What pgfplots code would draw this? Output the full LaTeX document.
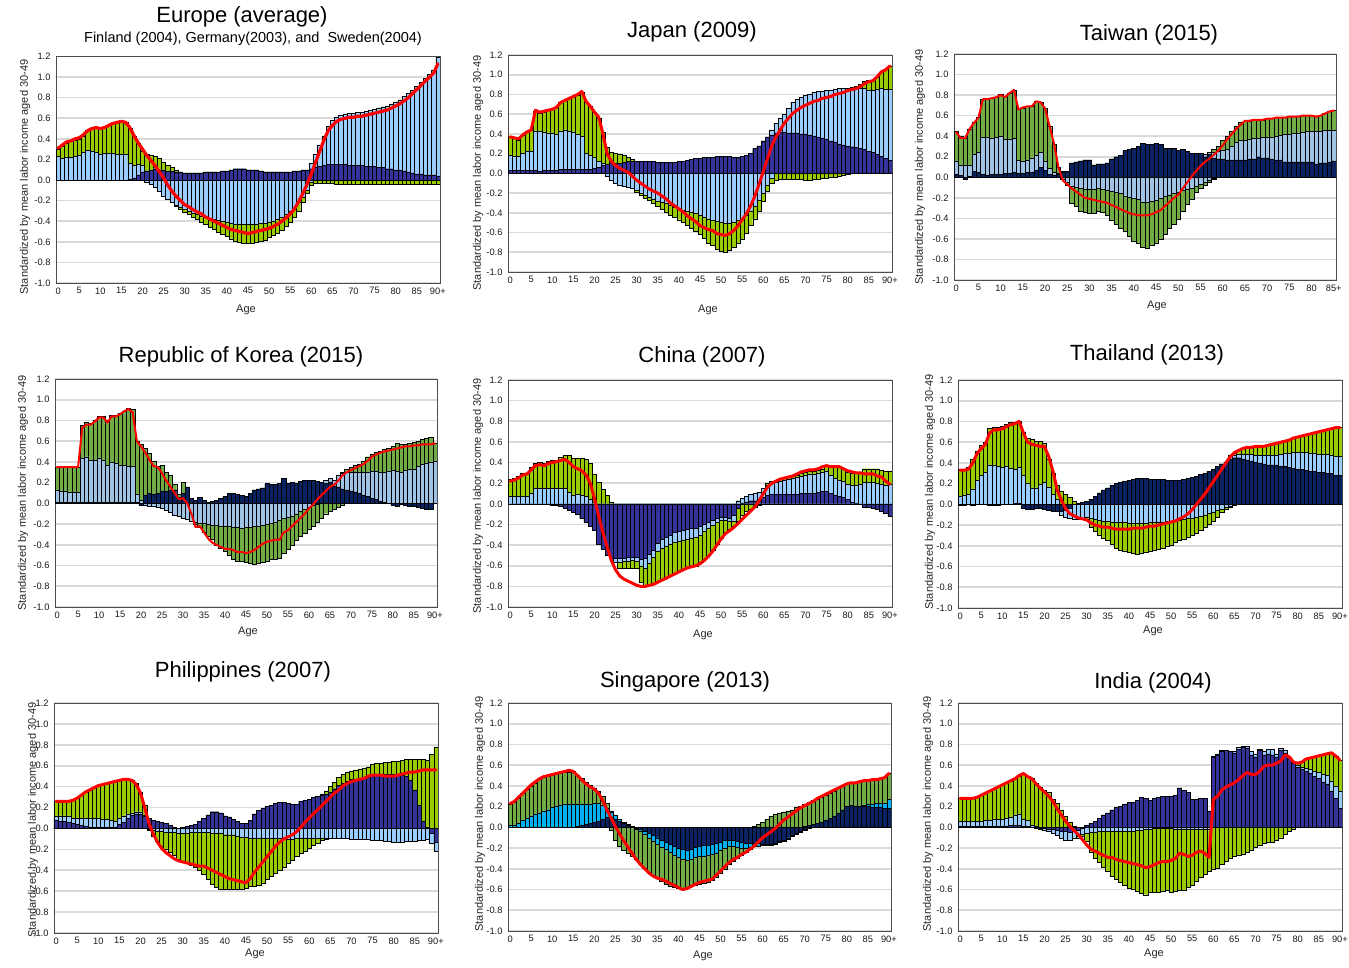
\documentclass[border=0pt]{standalone}
\usepackage{fontspec}
\setmainfont{Liberation Sans}
\usepackage{pgfplots}
\usepackage{pgfplotstable}
\pgfplotsset{compat=1.18}

\definecolor{navyA}{RGB}{51,51,153}
\definecolor{navyB}{RGB}{10,34,96}
\definecolor{lblueA}{RGB}{153,204,255}
\definecolor{lblueB}{RGB}{157,195,230}
\definecolor{greenA}{RGB}{153,204,0}
\definecolor{greenB}{RGB}{112,173,71}
\definecolor{cyanS}{RGB}{0,176,240}
\definecolor{gridc}{RGB}{217,217,217}

% columns: a,b,c = cumulative tops of the positive stack (navy, blue, green)
%          d,e,f = cumulative bottoms of the negative stack (navy, blue, green)
%          r     = net total (red line)
\pgfplotstableread{
a b c d e f r
0 .23 .30 0 0 0 .31
0 .21 .33 0 0 0 .34
0 .22 .36 0 0 0 .37
0 .22 .38 0 0 0 .38
0 .23 .39 0 0 0 .40
0 .24 .40 0 0 0 .41
0 .27 .43 0 0 0 .44
0 .29 .48 0 0 0 .48
0 .28 .50 0 0 0 .50
0 .27 .51 0 0 0 .51
0 .25 .49 0 0 0 .50
0 .26 .51 0 0 0 .51
0 .26 .53 0 0 0 .53
0 .26 .55 0 0 0 .55
0 .25 .56 0 0 0 .56
0 .25 .57 0 0 0 .57
0 .25 .56 0 0 0 .56
.01 .16 .50 0 0 0 .51
.02 .14 .43 0 0 0 .43
.05 .15 .36 0 0 0 .36
.08 .14 .28 0 0 0 .30
.09 .09 .25 0 -.02 -.02 .24
.10 .10 .24 0 -.04 -.04 .19
.11 .11 .23 0 -.07 -.07 .14
.10 .10 .21 0 -.11 -.11 .08
.10 .10 .17 0 -.16 -.16 .02
.09 .09 .14 0 -.19 -.19 -.05
.09 .09 .12 0 -.22 -.22 -.11
.08 .08 .10 0 -.24 -.25 -.16
.08 .08 .08 0 -.26 -.28 -.20
.07 .07 .07 0 -.28 -.31 -.24
.07 .07 .07 0 -.30 -.33 -.26
.07 .07 .07 0 -.32 -.36 -.29
.07 .07 .07 0 -.33 -.38 -.31
.07 .07 .07 0 -.35 -.41 -.33
.08 .08 .08 0 -.36 -.43 -.36
.08 .08 .08 0 -.37 -.46 -.38
.08 .08 .08 0 -.38 -.48 -.40
.08 .08 .08 0 -.39 -.51 -.42
.09 .09 .09 0 -.40 -.53 -.44
.09 .09 .09 0 -.41 -.55 -.46
.10 .10 .10 0 -.42 -.57 -.48
.11 .11 .11 0 -.43 -.59 -.49
.11 .11 .11 0 -.43 -.60 -.50
.11 .11 .11 0 -.43 -.61 -.51
.10 .10 .10 0 -.43 -.61 -.52
.10 .10 .10 0 -.43 -.61 -.51
.10 .10 .10 0 -.43 -.60 -.50
.09 .09 .09 0 -.42 -.59 -.49
.08 .08 .08 0 -.42 -.58 -.48
.08 .08 .08 0 -.41 -.56 -.47
.08 .08 .08 0 -.40 -.54 -.45
.08 .08 .08 0 -.38 -.52 -.43
.08 .08 .08 0 -.36 -.49 -.40
.08 .08 .08 0 -.33 -.45 -.37
.08 .08 .08 0 -.30 -.41 -.33
.09 .09 .09 0 -.27 -.36 -.28
.09 .09 .09 0 -.22 -.30 -.21
.10 .10 .10 0 -.17 -.22 -.13
.10 .10 .10 0 -.10 -.13 -.04
.11 .16 .16 0 -.02 -.05 .06
.12 .25 .25 0 0 -.03 .17
.13 .34 .34 0 0 -.03 .28
.14 .43 .43 0 0 -.03 .39
.15 .52 .52 0 0 -.03 .48
.15 .58 .58 0 0 -.03 .53
.15 .61 .61 0 0 -.04 .57
.15 .63 .63 0 0 -.04 .59
.15 .64 .64 0 0 -.04 .60
.14 .65 .65 0 0 -.04 .61
.14 .65 .65 0 0 -.04 .61
.14 .66 .66 0 0 -.04 .62
.14 .66 .66 0 0 -.04 .62
.13 .67 .67 0 0 -.04 .63
.13 .68 .68 0 0 -.04 .64
.13 .69 .69 0 0 -.04 .65
.12 .70 .70 0 0 -.04 .66
.12 .71 .71 0 0 -.04 .67
.11 .72 .72 0 0 -.04 .68
.11 .74 .74 0 0 -.04 .70
.10 .76 .76 0 0 -.04 .72
.10 .78 .78 0 0 -.04 .74
.09 .81 .81 0 0 -.04 .77
.08 .84 .84 0 0 -.04 .80
.07 .87 .87 0 0 -.04 .84
.06 .91 .91 0 0 -.04 .88
.06 .95 .95 0 0 -.04 .92
.05 .99 .99 0 0 -.04 .96
.05 1.03 1.03 0 0 -.04 1.00
.05 1.07 1.07 0 0 -.04 1.04
.04 1.19 1.19 0 0 -.04 1.13
}\tEU

\pgfplotstableread{
a b c d e f r
.03 .18 .38 0 0 0 .37
.03 .17 .36 0 0 0 .36
.03 .17 .34 0 0 0 .35
.03 .20 .39 0 0 0 .39
.03 .22 .43 0 0 0 .42
.03 .22 .44 0 0 0 .44
.03 .43 .63 0 0 0 .64
.02 .43 .61 0 0 0 .62
.03 .42 .62 0 0 0 .63
.03 .41 .64 0 0 0 .64
.03 .41 .65 0 0 0 .65
.03 .40 .67 0 0 0 .67
.04 .43 .72 0 0 0 .72
.04 .44 .74 0 0 0 .74
.04 .43 .76 0 0 0 .76
.04 .42 .78 0 0 0 .78
.04 .40 .79 0 0 0 .80
.04 .38 .82 0 0 0 .83
.04 .20 .72 0 0 0 .73
.04 .18 .68 0 0 0 .68
.05 .16 .62 0 0 0 .62
.06 .12 .56 0 0 0 .57
.08 .10 .42 0 0 0 .40
.09 .09 .26 0 -.03 -.03 .20
.10 .10 .21 0 -.07 -.07 .12
.10 .10 .20 0 -.10 -.10 .08
.10 .10 .19 0 -.12 -.12 .05
.11 .11 .18 0 -.13 -.13 .03
.12 .12 .16 0 -.14 -.14 .01
.12 .12 .14 0 -.15 -.15 -.03
.12 .12 .12 0 -.17 -.19 -.07
.12 .12 .12 0 -.20 -.22 -.10
.12 .12 .12 0 -.22 -.25 -.13
.12 .12 .12 0 -.24 -.27 -.16
.12 .12 .12 0 -.26 -.30 -.18
.11 .11 .11 0 -.28 -.33 -.20
.11 .11 .11 0 -.29 -.36 -.23
.11 .11 .11 0 -.30 -.39 -.26
.11 .11 .11 0 -.32 -.42 -.30
.11 .11 .11 0 -.34 -.44 -.33
.12 .12 .12 0 -.36 -.47 -.36
.12 .12 .12 0 -.37 -.50 -.39
.13 .13 .13 0 -.38 -.53 -.43
.14 .14 .14 0 -.39 -.56 -.46
.15 .15 .15 0 -.40 -.59 -.49
.15 .15 .15 0 -.42 -.62 -.53
.16 .16 .16 0 -.44 -.66 -.55
.16 .16 .16 0 -.46 -.71 -.57
.16 .16 .16 0 -.48 -.73 -.58
.17 .17 .17 0 -.49 -.77 -.61
.17 .17 .17 0 -.50 -.79 -.62
.17 .17 .17 0 -.51 -.80 -.63
.17 .17 .17 0 -.51 -.78 -.61
.16 .16 .16 0 -.50 -.75 -.58
.16 .16 .16 0 -.48 -.71 -.53
.17 .17 .17 0 -.46 -.67 -.47
.18 .18 .18 0 -.42 -.61 -.41
.20 .20 .20 0 -.38 -.53 -.33
.25 .25 .25 0 -.33 -.46 -.23
.28 .28 .28 0 -.27 -.38 -.11
.33 .33 .33 0 -.20 -.28 .02
.37 .37 .37 0 -.12 -.18 .15
.39 .44 .44 0 -.05 -.10 .28
.41 .51 .51 0 0 -.07 .37
.42 .56 .56 0 0 -.06 .44
.42 .60 .60 0 0 -.06 .51
.41 .66 .66 0 0 -.06 .56
.41 .72 .72 0 0 -.06 .61
.41 .75 .75 0 0 -.06 .64
.40 .77 .77 0 0 -.06 .67
.40 .79 .79 0 0 -.07 .69
.39 .80 .80 0 0 -.07 .71
.38 .82 .82 0 0 -.06 .73
.37 .83 .83 0 0 -.06 .74
.36 .83 .83 0 0 -.05 .76
.35 .84 .84 0 0 -.05 .77
.33 .84 .84 0 0 -.04 .78
.32 .85 .85 0 0 -.04 .80
.30 .86 .86 0 0 -.03 .81
.29 .86 .86 0 0 -.02 .82
.28 .86 .86 0 0 -.01 .84
.27 .86 .87 0 0 0 .85
.26 .86 .88 0 0 0 .86
.25 .86 .90 0 0 0 .88
.24 .86 .93 0 0 0 .91
.22 .84 .94 0 0 0 .93
.21 .84 .94 0 0 0 .94
.19 .85 .97 0 0 0 .98
.17 .86 1.03 0 0 0 1.03
.15 .85 1.06 0 0 0 1.05
.13 .85 1.09 0 0 0 1.09
}\tJP

\pgfplotstableread{
a b c d e f r
.03 .16 .45 0 0 0 .44
.02 .12 .40 0 0 0 .38
0 .12 .38 -.02 -.02 -.02 .38
.01 .12 .47 0 0 0 .47
.06 .22 .54 0 0 0 .53
.05 .24 .58 0 0 0 .58
.03 .39 .76 0 0 0 .76
.02 .39 .76 0 0 0 .76
.03 .38 .77 0 0 0 .77
.03 .39 .78 0 0 0 .78
.03 .40 .81 0 0 0 .80
.04 .37 .79 0 0 0 .78
.04 .37 .82 0 0 0 .82
.05 .38 .85 0 0 0 .85
.04 .17 .66 0 0 0 .66
.04 .16 .67 0 0 0 .68
.05 .17 .69 0 0 0 .69
.05 .19 .69 0 0 0 .69
.07 .21 .74 0 0 0 .74
.10 .24 .73 0 0 0 .73
.07 .16 .67 0 0 0 .67
.03 .09 .50 0 0 0 .50
.02 .05 .32 0 0 0 .33
.03 .04 .10 0 0 0 .10
.05 .05 .06 0 -.02 -.02 -.03
.06 .06 .06 0 -.05 -.08 -.07
.14 .14 .14 0 -.09 -.25 -.11
.15 .15 .15 0 -.10 -.28 -.14
.16 .16 .16 0 -.11 -.33 -.17
.17 .17 .17 0 -.12 -.34 -.20
.17 .17 .17 0 -.12 -.35 -.21
.12 .12 .12 0 -.12 -.35 -.22
.13 .13 .13 0 -.11 -.33 -.23
.13 .13 .13 0 -.12 -.34 -.24
.14 .14 .14 0 -.13 -.37 -.25
.18 .18 .18 0 -.14 -.42 -.27
.20 .20 .20 0 -.15 -.46 -.29
.21 .21 .21 0 -.16 -.50 -.31
.26 .26 .26 0 -.18 -.53 -.33
.27 .27 .27 0 -.19 -.57 -.35
.28 .28 .28 0 -.20 -.62 -.36
.30 .30 .30 0 -.21 -.64 -.37
.33 .33 .33 0 -.24 -.68 -.37
.32 .32 .32 0 -.24 -.69 -.37
.32 .32 .32 0 -.23 -.66 -.36
.33 .33 .33 0 -.22 -.64 -.34
.32 .32 .32 0 -.20 -.60 -.32
.28 .28 .28 0 -.18 -.55 -.28
.28 .28 .28 0 -.17 -.50 -.24
.28 .28 .28 0 -.16 -.46 -.20
.26 .26 .26 0 -.15 -.41 -.17
.27 .27 .27 0 -.13 -.33 -.11
.25 .25 .25 0 -.12 -.26 -.05
.23 .23 .23 0 -.11 -.21 .01
.23 .23 .23 0 -.09 -.15 .06
.23 .23 .23 0 -.07 -.11 .11
.20 .22 .22 0 -.05 -.08 .15
.22 .24 .24 0 -.03 -.05 .18
.19 .24 .27 0 -.01 -.02 .22
.18 .25 .30 0 0 0 .26
.18 .26 .36 0 0 0 .31
.17 .27 .40 0 0 0 .37
.17 .30 .45 0 0 0 .42
.17 .34 .50 0 0 0 .47
.17 .36 .54 0 0 0 .51
.17 .36 .55 0 0 0 .55
.18 .37 .55 0 0 0 .55
.18 .38 .56 0 0 0 .56
.20 .38 .56 0 0 0 .56
.19 .39 .56 0 0 0 .56
.19 .39 .57 0 0 0 .57
.18 .39 .57 0 0 0 .57
.17 .40 .58 0 0 0 .58
.17 .41 .58 0 0 0 .58
.15 .42 .58 0 0 0 .58
.15 .42 .59 0 0 0 .59
.15 .43 .59 0 0 0 .59
.15 .43 .59 0 0 0 .59
.15 .44 .60 0 0 0 .60
.15 .45 .60 0 0 0 .60
.15 .45 .60 0 0 0 .60
.13 .45 .59 0 0 0 .59
.14 .45 .60 0 0 0 .60
.14 .46 .62 0 0 0 .62
.15 .46 .64 0 0 0 .64
.16 .46 .65 0 0 0 .65
}\tTW

\pgfplotstableread{
a b c d e f r
.01 .13 .35 0 0 0 .35
.01 .12 .35 0 0 0 .35
.01 .12 .35 0 0 0 .35
.01 .11 .35 0 0 0 .35
.01 .11 .35 0 0 0 .35
.01 .11 .35 0 0 0 .35
.01 .44 .75 0 0 0 .73
.01 .45 .78 0 0 0 .76
.01 .42 .77 0 0 0 .76
.01 .42 .80 0 0 0 .79
.01 .44 .84 0 0 0 .83
.01 .42 .84 0 0 0 .83
.01 .37 .80 0 0 0 .78
.01 .40 .85 0 0 0 .84
.01 .39 .85 0 0 0 .84
.01 .37 .87 0 0 0 .86
.01 .37 .89 0 0 0 .89
.01 .36 .92 0 0 0 .91
.01 .36 .91 0 0 0 .88
.01 .09 .60 0 0 0 .60
0 .03 .57 -.02 -.02 -.02 .55
.08 .08 .53 0 -.02 -.02 .49
.10 .10 .48 0 -.03 -.03 .42
.09 .09 .41 0 -.03 -.03 .36
.10 .10 .36 0 -.04 -.04 .35
.12 .12 .37 0 -.05 -.05 .29
.12 .12 .30 0 -.07 -.07 .22
.13 .13 .27 0 -.09 -.09 .16
.13 .13 .18 0 -.11 -.11 .10
.06 .06 .09 0 -.12 -.12 .04
.10 .10 .20 0 -.14 -.14 .05
.16 .16 .16 0 -.15 -.15 .00
.05 .05 .05 0 -.17 -.17 -.10
.03 .03 .03 0 -.18 -.20 -.23
.06 .06 .06 0 -.19 -.23 -.22
.03 .03 .03 0 -.19 -.28 -.28
.01 .01 .01 0 -.20 -.32 -.34
.02 .02 .02 0 -.21 -.35 -.38
.03 .03 .03 0 -.21 -.40 -.40
.05 .05 .05 0 -.22 -.43 -.42
.07 .07 .07 0 -.22 -.46 -.44
.10 .10 .10 0 -.22 -.50 -.44
.10 .10 .10 0 -.23 -.54 -.45
.09 .09 .09 0 -.23 -.56 -.47
.08 .08 .08 0 -.24 -.56 -.47
.07 .07 .07 0 -.23 -.57 -.48
.10 .10 .10 0 -.23 -.58 -.47
.13 .13 .13 0 -.22 -.59 -.45
.14 .14 .14 0 -.22 -.58 -.42
.15 .15 .15 0 -.21 -.57 -.39
.19 .19 .19 0 -.20 -.56 -.37
.18 .18 .18 0 -.19 -.54 -.36
.18 .18 .18 0 -.18 -.54 -.35
.19 .19 .19 0 -.16 -.53 -.35
.24 .24 .24 0 -.14 -.48 -.28
.19 .19 .19 0 -.13 -.44 -.26
.20 .20 .20 0 -.12 -.40 -.22
.19 .19 .19 0 -.10 -.36 -.18
.21 .21 .21 0 -.08 -.32 -.14
.22 .22 .22 0 -.06 -.29 -.10
.22 .22 .22 0 -.04 -.25 -.05
.22 .22 .22 0 -.02 -.22 -.01
.21 .21 .21 0 -.01 -.18 .04
.20 .20 .20 0 0 -.14 .08
.19 .22 .22 0 0 -.10 .12
.20 .24 .24 0 0 -.08 .16
.17 .22 .22 0 0 -.06 .18
.16 .27 .27 0 0 -.04 .22
.14 .29 .30 0 0 -.02 .27
.13 .30 .33 0 0 0 .30
.12 .30 .35 0 0 0 .32
.11 .30 .37 0 0 0 .34
.10 .30 .38 0 0 0 .36
.08 .30 .41 0 0 0 .38
.07 .30 .45 0 0 0 .41
.05 .31 .47 0 0 0 .45
.04 .31 .49 0 0 0 .47
.02 .30 .50 0 0 0 .49
.01 .30 .52 0 0 0 .50
0 .31 .53 0 0 0 .51
0 .32 .55 -.02 -.02 -.02 .52
0 .31 .58 -.03 -.03 -.03 .53
0 .30 .57 -.01 -.01 -.01 .54
0 .32 .57 -.02 -.02 -.02 .55
0 .33 .58 -.03 -.03 -.03 .55
0 .33 .59 -.03 -.03 -.03 .56
0 .36 .60 -.04 -.04 -.04 .56
0 .38 .62 -.05 -.05 -.05 .57
0 .39 .63 -.06 -.06 -.06 .57
0 .40 .64 -.06 -.06 -.06 .57
0 .41 .58 0 0 0 .58
}\tKR

\pgfplotstableread{
a b c d e f r
0 .07 .24 0 0 0 .22
0 .07 .25 0 0 0 .23
0 .07 .27 0 0 0 .25
0 .07 .30 0 0 0 .28
0 .07 .30 0 0 0 .29
0 .10 .35 0 0 0 .33
0 .15 .39 0 0 0 .37
0 .15 .40 0 0 0 .38
0 .15 .39 0 0 0 .37
0 .15 .41 0 0 0 .39
0 .15 .42 -.01 -.01 -.01 .40
0 .15 .42 -.01 -.01 -.01 .41
0 .15 .45 -.02 -.02 -.02 .42
0 .15 .47 -.04 -.04 -.04 .43
0 .11 .47 -.06 -.06 -.06 .40
0 .08 .44 -.08 -.08 -.08 .36
0 .09 .44 -.10 -.10 -.10 .34
0 .08 .44 -.14 -.14 -.14 .32
0 .07 .43 -.18 -.18 -.18 .28
0 .04 .39 -.22 -.22 -.22 .20
0 .02 .29 -.26 -.26 -.26 .05
0 0 .21 -.39 -.39 -.39 -.12
0 0 .14 -.44 -.44 -.44 -.28
0 0 .08 -.50 -.50 -.50 -.42
0 0 .02 -.53 -.53 -.53 -.55
0 0 0 -.53 -.57 -.57 -.64
0 0 0 -.53 -.57 -.62 -.70
0 0 0 -.53 -.56 -.62 -.73
0 0 0 -.52 -.56 -.62 -.75
0 0 0 -.52 -.55 -.62 -.77
0 0 0 -.52 -.56 -.62 -.79
0 0 0 -.54 -.60 -.76 -.80
0 0 0 -.53 -.62 -.79 -.80
0 0 0 -.49 -.58 -.78 -.79
0 0 0 -.45 -.52 -.77 -.78
0 0 0 -.38 -.46 -.75 -.76
0 0 0 -.34 -.43 -.73 -.74
0 0 0 -.32 -.41 -.71 -.72
0 0 0 -.30 -.39 -.69 -.70
0 0 0 -.28 -.37 -.67 -.68
0 0 0 -.27 -.36 -.65 -.66
0 0 0 -.26 -.35 -.63 -.64
0 0 0 -.25 -.34 -.62 -.62
0 0 0 -.24 -.33 -.61 -.61
0 0 0 -.24 -.32 -.60 -.60
0 0 0 -.22 -.30 -.57 -.58
0 0 0 -.20 -.27 -.54 -.55
0 0 0 -.18 -.24 -.50 -.51
0 0 0 -.16 -.21 -.45 -.46
0 0 0 -.14 -.18 -.39 -.40
0 0 0 -.13 -.16 -.33 -.34
0 0 0 -.13 -.16 -.28 -.29
0 0 0 -.14 -.17 -.25 -.26
0 0 0 -.11 -.17 -.22 -.23
0 .03 .03 -.04 -.04 -.17 -.19
.01 .05 .05 0 0 -.11 -.15
.02 .07 .07 0 0 -.07 -.11
.03 .09 .09 0 0 -.05 -.07
.03 .10 .10 0 0 -.03 -.03
.04 .11 .11 0 0 -.01 .03
.06 .15 .15 0 0 0 .10
.08 .18 .20 0 0 0 .16
.09 .20 .22 0 0 0 .20
.09 .21 .23 0 0 0 .22
.09 .22 .24 0 0 0 .24
.09 .23 .25 0 0 0 .25
.09 .24 .26 0 0 0 .26
.09 .25 .27 0 0 0 .27
.09 .26 .28 0 0 0 .29
.10 .27 .30 0 0 0 .31
.10 .28 .31 0 0 0 .32
.10 .29 .32 0 0 0 .33
.10 .29 .32 0 0 0 .33
.11 .30 .33 0 0 0 .34
.12 .31 .34 0 0 0 .36
.12 .32 .36 0 0 0 .37
.10 .28 .36 0 0 0 .36
.08 .25 .35 0 0 0 .36
.07 .23 .36 0 0 0 .36
.06 .22 .34 0 0 0 .34
.04 .19 .31 0 0 0 .32
.02 .18 .30 0 0 0 .31
.01 .18 .30 0 0 0 .30
0 .19 .31 0 0 0 .30
0 .21 .34 -.03 -.03 -.03 .29
0 .21 .34 -.03 -.03 -.03 .29
0 .21 .34 -.04 -.04 -.04 .29
0 .20 .34 -.05 -.05 -.05 .27
0 .19 .33 -.07 -.07 -.07 .26
0 .18 .32 -.09 -.09 -.09 .22
0 .19 .32 -.12 -.12 -.12 .19
}\tCN

\pgfplotstableread{
a b c d e f r
0 .08 .34 -.01 -.01 -.01 .33
0 .09 .34 -.01 -.01 -.01 .33
0 .10 .36 0 0 0 .34
0 .15 .44 -.01 -.01 -.01 .40
0 .23 .51 0 0 0 .49
0 .28 .57 0 0 0 .54
0 .31 .60 0 0 0 .58
0 .38 .73 -.01 -.01 -.01 .69
0 .38 .74 -.01 -.01 -.01 .72
0 .37 .74 -.01 -.01 -.01 .72
0 .36 .75 0 0 0 .73
0 .37 .77 0 0 0 .75
0 .35 .79 0 0 0 .77
.01 .34 .79 0 0 0 .78
.01 .36 .80 0 0 0 .80
0 .28 .70 -.04 -.04 -.04 .69
0 .20 .64 -.05 -.05 -.05 .60
0 .16 .63 -.05 -.05 -.05 .58
0 .16 .61 -.04 -.04 -.04 .57
0 .19 .61 -.04 -.04 -.04 .56
0 .21 .59 -.05 -.05 -.05 .56
0 .17 .44 -.06 -.06 -.06 .46
0 .10 .30 -.07 -.07 -.07 .32
0 .05 .18 -.07 -.07 -.07 .14
0 0 .13 -.07 -.10 -.10 .04
0 0 .10 -.06 -.12 -.12 -.04
0 0 .07 -.04 -.13 -.13 -.09
0 0 .03 0 -.14 -.14 -.11
.01 .01 .01 0 -.14 -.14 -.13
.02 .02 .02 0 -.13 -.13 -.14
.03 .03 .03 0 -.12 -.14 -.15
.05 .05 .05 0 -.13 -.22 -.18
.08 .08 .08 0 -.14 -.26 -.20
.11 .11 .11 0 -.15 -.30 -.21
.14 .14 .14 0 -.16 -.33 -.22
.16 .16 .16 0 -.16 -.35 -.22
.18 .18 .18 0 -.17 -.38 -.23
.20 .20 .20 0 -.17 -.42 -.24
.21 .21 .21 0 -.17 -.44 -.24
.22 .22 .22 0 -.17 -.45 -.24
.23 .23 .23 0 -.18 -.46 -.24
.24 .24 .24 0 -.18 -.47 -.23
.25 .25 .25 0 -.18 -.48 -.23
.25 .25 .25 0 -.18 -.47 -.23
.25 .25 .25 0 -.18 -.46 -.22
.24 .24 .24 0 -.17 -.45 -.21
.24 .24 .24 0 -.17 -.44 -.21
.24 .24 .24 0 -.17 -.43 -.20
.24 .24 .24 0 -.17 -.42 -.19
.23 .23 .23 0 -.16 -.40 -.18
.23 .23 .23 0 -.16 -.39 -.17
.23 .23 .23 0 -.15 -.37 -.16
.23 .23 .23 0 -.15 -.35 -.14
.24 .24 .24 0 -.14 -.34 -.12
.25 .25 .25 0 -.13 -.32 -.09
.26 .26 .26 0 -.13 -.30 -.05
.27 .27 .27 0 -.12 -.28 0
.29 .29 .29 0 -.11 -.25 .05
.30 .30 .30 0 -.10 -.22 .10
.32 .32 .32 0 -.09 -.19 .16
.34 .34 .34 0 -.08 -.16 .22
.37 .37 .37 0 -.06 -.12 .28
.39 .39 .39 0 -.05 -.08 .34
.41 .41 .41 0 -.03 -.05 .40
.44 .46 .47 0 -.02 -.03 .46
.45 .47 .49 0 0 -.01 .50
.45 .48 .52 0 0 0 .52
.44 .48 .54 0 0 0 .54
.43 .48 .55 0 0 0 .55
.42 .48 .56 0 0 0 .55
.41 .47 .56 0 0 0 .56
.40 .47 .57 0 0 0 .56
.39 .47 .57 0 0 0 .56
.38 .47 .57 0 0 0 .57
.38 .47 .58 0 0 0 .58
.38 .47 .59 0 0 0 .59
.37 .48 .60 0 0 0 .60
.37 .49 .61 0 0 0 .61
.36 .49 .62 0 0 0 .62
.35 .50 .64 0 0 0 .64
.34 .50 .65 0 0 0 .65
.34 .50 .66 0 0 0 .66
.33 .50 .67 0 0 0 .67
.32 .49 .68 0 0 0 .68
.32 .49 .69 0 0 0 .69
.31 .48 .70 0 0 0 .70
.31 .48 .71 0 0 0 .71
.30 .48 .72 0 0 0 .72
.30 .47 .73 0 0 0 .73
.28 .46 .74 0 0 0 .74
.28 .46 .74 0 0 0 .74
}\tTH

\pgfplotstableread{
a b c d e f r
.08 .12 .26 0 0 0 .26
.07 .12 .26 0 0 0 .26
.07 .12 .26 0 0 0 .26
.06 .12 .26 0 0 0 .26
.05 .10 .27 0 0 0 .27
.04 .10 .29 0 0 0 .29
.03 .10 .32 0 0 0 .32
.02 .10 .35 0 0 0 .35
.01 .10 .37 0 0 0 .37
.01 .10 .39 0 0 0 .39
.01 .10 .41 0 0 0 .41
.01 .09 .42 0 0 0 .42
.01 .09 .43 0 0 0 .43
.01 .08 .44 0 0 0 .44
.01 .07 .45 0 0 0 .45
.04 .10 .46 0 0 0 .46
.06 .12 .47 0 0 0 .47
.10 .14 .47 0 0 0 .47
.13 .15 .46 0 0 0 .46
.14 .16 .43 0 0 0 .42
.14 .16 .35 0 0 0 .34
.12 .13 .22 0 0 0 .20
.10 .10 .10 0 -.01 -.02 .05
.08 .08 .08 0 -.02 -.07 -.05
.07 .07 .07 0 -.03 -.12 -.13
.06 .06 .06 0 -.03 -.17 -.19
.05 .05 .05 0 -.04 -.20 -.23
.03 .03 .03 0 -.04 -.23 -.26
.01 .01 .01 0 -.04 -.26 -.29
0 0 0 0 -.05 -.29 -.31
.01 .01 .01 0 -.05 -.31 -.32
.02 .02 .02 0 -.05 -.33 -.33
.03 .03 .03 0 -.04 -.35 -.34
.04 .04 .04 0 -.04 -.37 -.35
.07 .07 .07 0 -.04 -.40 -.36
.10 .10 .10 0 -.04 -.44 -.36
.13 .13 .13 0 -.04 -.49 -.38
.16 .16 .16 0 -.05 -.53 -.40
.16 .16 .16 0 -.05 -.56 -.42
.15 .15 .15 0 -.05 -.58 -.44
.12 .12 .12 0 -.06 -.58 -.46
.11 .11 .11 0 -.06 -.58 -.48
.09 .09 .09 0 -.06 -.58 -.49
.07 .07 .07 0 -.07 -.58 -.50
.05 .05 .05 0 -.08 -.58 -.51
.05 .05 .05 0 -.08 -.57 -.52
.08 .08 .08 0 -.09 -.55 -.48
.14 .14 .14 0 -.09 -.55 -.42
.17 .17 .17 0 -.09 -.54 -.37
.19 .19 .19 0 -.09 -.52 -.32
.21 .21 .21 0 -.09 -.49 -.27
.22 .22 .22 0 -.09 -.46 -.22
.24 .24 .24 0 -.09 -.43 -.17
.25 .25 .25 0 -.09 -.40 -.13
.25 .25 .25 0 -.09 -.37 -.10
.24 .24 .24 0 -.10 -.33 -.08
.23 .23 .23 0 -.10 -.30 -.06
.23 .23 .23 0 -.09 -.27 -.03
.26 .26 .26 0 -.09 -.24 .01
.27 .27 .27 0 -.09 -.22 .06
.28 .28 .28 0 -.09 -.19 .10
.30 .30 .30 0 -.09 -.16 .14
.31 .31 .31 0 -.09 -.14 .18
.32 .32 .33 0 -.09 -.11 .22
.33 .33 .36 0 -.09 -.10 .26
.35 .35 .40 0 -.09 -.09 .30
.38 .38 .44 0 -.09 -.09 .34
.41 .41 .49 0 -.09 -.09 .37
.43 .43 .52 0 -.09 -.09 .41
.45 .45 .54 0 -.09 -.09 .43
.47 .47 .55 0 -.10 -.10 .45
.47 .47 .56 0 -.10 -.10 .46
.48 .48 .57 0 -.10 -.10 .47
.49 .49 .58 0 -.10 -.10 .48
.49 .49 .59 0 -.10 -.10 .50
.50 .50 .61 0 -.11 -.11 .51
.51 .51 .62 0 -.11 -.11 .51
.52 .52 .62 0 -.11 -.11 .51
.52 .52 .63 0 -.12 -.12 .50
.52 .52 .63 0 -.12 -.12 .50
.52 .52 .64 0 -.13 -.13 .50
.51 .51 .64 0 -.13 -.13 .51
.51 .51 .65 0 -.13 -.13 .52
.50 .50 .66 0 -.12 -.12 .53
.46 .46 .66 0 -.12 -.12 .54
.37 .37 .66 0 -.12 -.12 .54
.22 .22 .66 0 -.11 -.11 .55
.07 .07 .66 0 -.11 -.11 .56
.01 .01 .65 0 -.10 -.10 .56
0 0 .71 -.05 -.14 -.14 .56
0 0 .78 -.13 -.22 -.22 .56
}\tPH

\pgfplotstableread{
a b c d e f r
0 .02 .22 0 0 0 .23
0 .02 .24 0 0 0 .25
0 .04 .28 0 0 0 .29
0 .07 .33 0 0 0 .33
0 .09 .37 0 0 0 .37
0 .11 .40 0 0 0 .41
0 .13 .43 0 0 0 .44
0 .14 .46 0 0 0 .47
0 .16 .48 0 0 0 .49
0 .17 .49 0 0 0 .50
0 .19 .50 0 0 0 .51
0 .20 .51 0 0 0 .52
0 .21 .52 0 0 0 .53
0 .22 .53 0 0 0 .54
0 .22 .53 0 0 0 .55
0 .22 .54 0 0 0 .54
.01 .22 .50 0 0 0 .50
.02 .22 .47 0 0 0 .46
.03 .22 .44 0 0 0 .42
.04 .22 .41 0 0 0 .39
.05 .23 .38 0 0 0 .37
.06 .23 .35 0 0 0 .33
.08 .21 .30 0 0 0 .26
.10 .18 .23 0 0 0 .17
.10 .15 .16 0 0 -.03 .09
.08 .12 .12 0 0 -.12 .01
.06 .08 .08 0 0 -.18 -.06
.04 .05 .05 0 0 -.22 -.13
.02 .03 .03 0 0 -.25 -.19
.01 .01 .01 0 0 -.28 -.25
0 0 0 -.01 -.02 -.31 -.31
0 0 0 -.02 -.04 -.35 -.36
0 0 0 -.04 -.07 -.39 -.40
0 0 0 -.06 -.10 -.43 -.44
0 0 0 -.08 -.13 -.46 -.47
0 0 0 -.10 -.16 -.49 -.49
0 0 0 -.12 -.19 -.52 -.50
0 0 0 -.14 -.21 -.55 -.52
0 0 0 -.16 -.24 -.57 -.54
0 0 0 -.18 -.27 -.58 -.56
0 0 0 -.20 -.29 -.59 -.58
0 0 0 -.21 -.31 -.59 -.60
0 0 0 -.22 -.32 -.58 -.59
0 0 0 -.21 -.31 -.57 -.57
0 0 0 -.19 -.29 -.56 -.55
0 0 0 -.18 -.28 -.55 -.53
0 0 0 -.17 -.28 -.54 -.52
0 0 0 -.17 -.27 -.53 -.51
0 0 0 -.16 -.26 -.51 -.50
0 0 0 -.15 -.25 -.48 -.46
0 0 0 -.14 -.22 -.44 -.42
0 0 0 -.12 -.20 -.40 -.38
0 0 0 -.12 -.18 -.36 -.34
0 0 0 -.12 -.18 -.33 -.31
0 0 0 -.13 -.19 -.30 -.29
0 0 0 -.14 -.20 -.27 -.26
0 0 0 -.15 -.20 -.24 -.24
0 0 0 -.15 -.19 -.21 -.21
0 0 .01 -.15 -.18 -.18 -.18
0 0 .03 -.15 -.18 -.18 -.14
0 0 .05 -.16 -.17 -.17 -.10
0 0 .08 -.16 -.17 -.17 -.07
0 0 .11 -.16 -.17 -.17 -.04
0 0 .13 -.15 -.16 -.16 -.01
0 0 .14 -.13 -.14 -.14 .03
0 0 .15 -.12 -.13 -.13 .07
0 0 .16 -.10 -.11 -.11 .10
0 0 .17 -.08 -.09 -.09 .13
0 0 .19 -.06 -.07 -.07 .16
0 0 .20 -.04 -.05 -.05 .19
.01 .01 .22 -.02 -.03 -.03 .21
.02 .02 .24 -.01 -.01 -.01 .23
.03 .03 .26 0 0 0 .25
.04 .04 .27 0 0 0 .28
.05 .05 .29 0 0 0 .30
.07 .07 .31 0 0 0 .32
.09 .09 .33 0 0 0 .34
.11 .11 .35 0 0 0 .36
.14 .14 .38 0 0 0 .38
.17 .17 .40 0 0 0 .40
.20 .20 .42 0 0 0 .42
.21 .21 .43 0 0 0 .43
.20 .20 .43 0 0 0 .43
.20 .20 .44 0 0 0 .44
.20 .21 .45 0 0 0 .45
.20 .22 .45 0 0 0 .45
.19 .22 .46 0 0 0 .46
.19 .23 .46 0 0 0 .46
.19 .23 .47 0 0 0 .47
.18 .23 .48 0 0 0 .48
.18 .27 .52 0 0 0 .52
}\tSG

\pgfplotstableread{
a b c d e f r
.01 .06 .28 0 0 0 .28
.01 .06 .28 0 0 0 .28
.01 .06 .28 0 0 0 .28
.01 .06 .28 0 0 0 .28
.01 .06 .29 0 0 0 .29
.01 .06 .31 0 0 0 .31
.01 .07 .33 0 0 0 .33
.01 .07 .35 0 0 0 .35
.01 .08 .37 0 0 0 .37
.01 .08 .39 0 0 0 .39
.01 .08 .41 0 0 0 .41
.01 .09 .43 0 0 0 .43
.02 .10 .45 0 0 0 .45
.02 .12 .47 0 0 0 .47
.02 .13 .49 0 0 0 .50
.01 .08 .52 0 0 0 .52
.01 .07 .49 0 0 0 .49
0 .02 .47 0 0 0 .47
0 .01 .43 -.01 -.01 -.01 .42
0 0 .39 -.01 -.02 -.02 .38
0 0 .36 -.01 -.03 -.03 .34
0 0 .34 -.02 -.04 -.04 .30
0 0 .27 -.02 -.06 -.06 .25
0 0 .23 -.03 -.08 -.08 .18
0 0 .17 -.04 -.10 -.10 .12
0 0 .11 -.04 -.12 -.12 .06
0 0 .05 -.05 -.12 -.12 .01
0 0 .01 -.04 -.10 -.10 -.03
0 0 0 -.03 -.09 -.10 -.07
0 0 0 -.01 -.07 -.09 -.12
.02 .02 .02 0 -.06 -.13 -.17
.04 .04 .04 0 -.05 -.24 -.21
.06 .06 .06 0 -.05 -.30 -.23
.09 .09 .09 0 -.04 -.34 -.25
.12 .12 .12 0 -.04 -.38 -.27
.14 .14 .14 0 -.04 -.42 -.29
.17 .17 .17 0 -.04 -.47 -.29
.19 .19 .19 0 -.04 -.50 -.31
.20 .20 .20 0 -.04 -.53 -.32
.22 .22 .22 0 -.04 -.56 -.33
.24 .24 .24 0 -.04 -.59 -.34
.24 .24 .24 0 -.04 -.60 -.35
.26 .26 .26 0 -.03 -.62 -.36
.29 .29 .29 0 -.03 -.64 -.37
.28 .28 .28 0 -.02 -.65 -.39
.26 .26 .26 0 -.02 -.63 -.38
.28 .28 .28 0 -.01 -.63 -.36
.29 .29 .29 0 -.01 -.63 -.34
.30 .30 .30 0 -.01 -.62 -.33
.30 .30 .30 0 -.01 -.61 -.33
.30 .30 .30 0 -.01 -.63 -.32
.31 .31 .31 0 -.02 -.62 -.30
.38 .38 .38 0 -.02 -.61 -.25
.36 .36 .36 0 -.02 -.61 -.26
.34 .34 .34 0 -.02 -.58 -.28
.27 .27 .27 0 -.02 -.56 -.27
.27 .27 .27 0 -.02 -.52 -.24
.28 .28 .28 0 -.02 -.48 -.23
.28 .28 .28 0 -.02 -.45 -.25
.16 .16 .16 0 -.02 -.42 -.29
.68 .69 .69 0 0 -.40 .27
.70 .71 .71 0 0 -.39 .30
.73 .74 .74 0 0 -.36 .36
.74 .74 .74 0 0 -.33 .39
.73 .73 .73 0 0 -.30 .41
.72 .73 .73 0 0 -.28 .43
.75 .77 .77 0 0 -.27 .46
.77 .78 .78 0 0 -.26 .50
.76 .78 .78 0 0 -.24 .53
.70 .73 .73 0 0 -.22 .51
.68 .71 .71 0 0 -.19 .51
.74 .75 .75 0 0 -.17 .54
.70 .73 .73 0 0 -.15 .59
.71 .75 .75 0 0 -.14 .60
.70 .75 .75 0 0 -.14 .60
.68 .71 .71 0 0 -.12 .62
.74 .76 .76 0 0 -.10 .64
.72 .74 .74 0 0 -.07 .70
.67 .68 .68 0 0 -.04 .68
.62 .63 .64 0 0 -.02 .63
.58 .60 .62 0 0 0 .62
.56 .58 .63 0 0 0 .63
.54 .57 .66 0 0 0 .66
.52 .56 .67 0 0 0 .67
.49 .54 .68 0 0 0 .68
.47 .53 .69 0 0 0 .69
.44 .51 .70 0 0 0 .70
.42 .50 .71 0 0 0 .71
.35 .45 .72 0 0 0 .72
.28 .40 .69 0 0 0 .69
.18 .35 .65 0 0 0 .65
}\tIN

\pgfplotsset{
  panel/.style={
    scale only axis, anchor=south west,
    xmin=-0.5, xmax=90.5, ymin=-1, ymax=1.2,
    ytick={-1,-0.8,-0.6,-0.4,-0.2,0,0.2,0.4,0.6,0.8,1,1.2},
    xtick={0,5,...,90},
    xticklabels={0,5,10,15,20,25,30,35,40,45,50,55,60,65,70,75,80,85,90+},
    /pgf/number format/assume math mode=true,
    yticklabel style={/pgf/number format/fixed, /pgf/number format/fixed zerofill,
      /pgf/number format/precision=1, xshift=-2pt},
    xticklabel style={yshift=-1pt},
    ticklabel style={font=\fontsize{9.3}{10}\selectfont, text=black!90},
    major tick length=0pt,
    ymajorgrids, grid style={gridc, line width=1.6pt},
    axis line style={black!70, line width=0.8pt},
    clip=true,
  },
  lay/.style={ybar, bar width=1, bar shift=0pt, draw=black, line width=0.45pt},
}

% navy / blue / green layers, positive stack then negative stack, then the net line
\newcommand\panelplots[5]{%
  \addplot[lay, fill=#4] table[x expr=\coordindex, y=c]{#1};
  \addplot[lay, fill=#3] table[x expr=\coordindex, y=b]{#1};
  \addplot[lay, fill=#2] table[x expr=\coordindex, y=a]{#1};
  \addplot[lay, fill=#4] table[x expr=\coordindex, y=f]{#1};
  \addplot[lay, fill=#3] table[x expr=\coordindex, y=e]{#1};
  \addplot[lay, fill=#2] table[x expr=\coordindex, y=d]{#1};
  \addplot[red, line width=#5, line join=round, line cap=round] table[x expr=\coordindex, y=r]{#1};
}

\begin{document}
\begin{tikzpicture}
\path[use as bounding box] (0pt,0pt) rectangle (1349pt,-967pt);

\begin{axis}[panel, at={(56pt,-283pt)}, width=384pt, height=226.5pt]
  \panelplots{\tEU}{navyA}{lblueA}{greenA}{3.2pt}
\end{axis}
\begin{axis}[panel, at={(508pt,-272pt)}, width=384pt, height=217pt]
  \panelplots{\tJP}{navyA}{lblueA}{greenA}{3pt}
\end{axis}
\begin{axis}[panel, at={(954pt,-280pt)}, width=382pt, height=226pt,
  xmax=85.5, xtick={0,5,...,85},
  xticklabels={0,5,10,15,20,25,30,35,40,45,50,55,60,65,70,75,80,85+}]
  \panelplots{\tTW}{navyB}{lblueB}{greenB}{2pt}
\end{axis}
\begin{axis}[panel, at={(55pt,-607pt)}, width=382pt, height=228pt]
  \panelplots{\tKR}{navyB}{lblueB}{greenB}{2pt}
\end{axis}
\begin{axis}[panel, at={(508pt,-607pt)}, width=384pt, height=227pt]
  \panelplots{\tCN}{navyA}{lblueA}{greenA}{3pt}
\end{axis}
\begin{axis}[panel, at={(958pt,-608pt)}, width=384pt, height=228pt]
  \panelplots{\tTH}{navyB}{lblueA}{greenA}{3pt}
\end{axis}
\begin{axis}[panel, at={(54pt,-933pt)}, width=384pt, height=230pt]
  \panelplots{\tPH}{navyA}{lblueA}{greenA}{3pt}
\end{axis}
\begin{axis}[panel, at={(508pt,-931pt)}, width=383pt, height=228pt]
  \panelplots{\tSG}{navyB}{cyanS}{greenB}{3pt}
\end{axis}
\begin{axis}[panel, at={(958pt,-931pt)}, width=384pt, height=228pt]
  \panelplots{\tIN}{navyA}{lblueA}{greenA}{3pt}
\end{axis}

% panel titles
\begin{scope}[every node/.style={font=\fontsize{22}{24}\selectfont}]
  \node at (242pt,-17pt) {Europe (average)};
  \node at (692pt,-32pt) {Japan (2009)};
  \node at (1149pt,-35pt) {Taiwan (2015)};
  \node at (241pt,-357pt) {Republic of Korea (2015)};
  \node at (702pt,-357pt) {China (2007)};
  \node at (1147pt,-355pt) {Thailand (2013)};
  \node at (243pt,-672pt) {Philippines (2007)};
  \node at (685pt,-682pt) {Singapore (2013)};
  \node at (1153pt,-683pt) {India (2004)};
\end{scope}
\node[font=\fontsize{14.5}{16}\selectfont] at (253pt,-39pt) {Finland (2004), Germany(2003), and\ \ Sweden(2004)};

% axis titles
\begin{scope}[every node/.style={font=\fontsize{11}{12}\selectfont, text=black!85}]
  \foreach \x/\y in {25/177, 478/173, 920/167, 23/493, 478/496, 930/492, 33/820, 480/814, 928/814}
    \node[rotate=90] at (\x pt,-\y pt) {Standardized by mean labor income aged 30-49};
  \foreach \x/\y in {246/310, 708/310, 1157/306, 248/632, 703/635, 1153/631, 255/954, 703/956, 1154/954}
    \node at (\x pt,-\y pt) {Age};
\end{scope}
\end{tikzpicture}
\end{document}
